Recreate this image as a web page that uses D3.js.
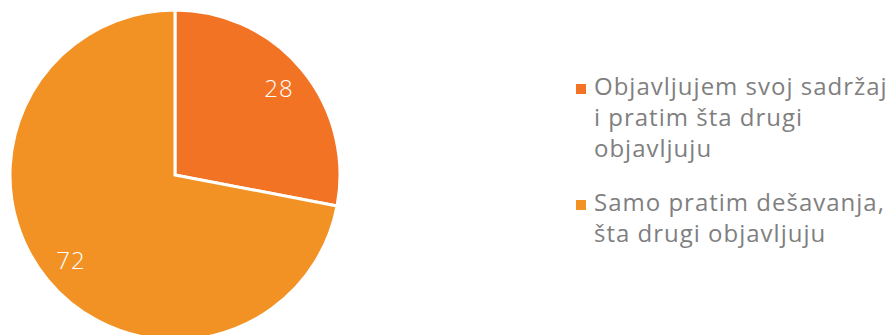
<!DOCTYPE html>
<html>
<head>
<meta charset="utf-8">
<script src="https://cdn.jsdelivr.net/npm/d3@7"></script>
<style>
  body { margin: 0; background: #fff; }
  text { font-family: "Open Sans", sans-serif; }
</style>
</head>
<body>
<svg width="891" height="335"></svg>
<script>
"use strict";

// Data.

var categories = ["Objavljujem svoj sadržaj i pratim šta drugi objavljuju",
                  "Samo pratim dešavanja, šta drugi objavljuju"];
var values = [28, 72];
var legendLines = [["Objavljujem svoj sadržaj", "i pratim šta drugi", "objavljuju"],
                   ["Samo pratim dešavanja,", "šta drugi objavljuju"]];

// Layout and style.

var svg = d3.select("svg");
var CenterX = 175, CenterY = 175;
var Radius = 165;
var LabelRadius = 135;
var Colors = ["#f37324", "#f39224"];
var TextColor = "#7f7f7f";

var color = d3.scaleOrdinal().domain(categories).range(Colors);

var pie = d3.pie().sort(null).value(function(d){ return d.value; });
var arcs = pie(categories.map(function(c, i){ return {name: c, value: values[i]}; }));

var arc = d3.arc().innerRadius(0).outerRadius(Radius);
var labelArc = d3.arc().innerRadius(LabelRadius).outerRadius(LabelRadius);

var g = svg.append("g").attr("transform", "translate(" + CenterX + "," + CenterY + ")");

g.selectAll("path")
    .data(arcs)
    .enter().append("path")
        .attr("d", arc)
        .attr("fill", function(d){ return color(d.data.name); })
        .attr("stroke", "#fff")
        .attr("stroke-width", 3)
        .attr("stroke-linejoin", "miter");

g.selectAll("text.val")
    .data(arcs)
    .enter().append("text")
        .attr("class", "val")
        .attr("transform", function(d){ return "translate(" + labelArc.centroid(d) + ")"; })
        .attr("text-anchor", "middle")
        .attr("dy", "0.35em")
        .attr("fill", "#fff")
        .style("font-size", "24px")
        .style("font-weight", 300)
        .style("letter-spacing", "1px")
        .text(function(d){ return d.data.value; });

// Legend.

var LegendX = 576, LegendY = [87, 203], LineH = 31;

var items = svg.selectAll("g.legend")
    .data(categories)
    .enter().append("g")
        .attr("class", "legend")
        .attr("transform", function(d, i){ return "translate(" + LegendX + "," + LegendY[i] + ")"; });

items.append("rect")
    .attr("x", 0).attr("y", -3)
    .attr("width", 10).attr("height", 10)
    .attr("fill", function(d){ return color(d); });

items.append("text")
    .attr("fill", TextColor)
    .style("font-size", "24px")
    .style("letter-spacing", "1px")
    .selectAll("tspan")
    .data(function(d, i){ return legendLines[i]; })
    .enter().append("tspan")
        .attr("x", 18)
        .attr("y", function(d, j){ return j*LineH; })
        .attr("dy", "0.35em")
        .text(function(d){ return d; });
</script>
</body>
</html>
